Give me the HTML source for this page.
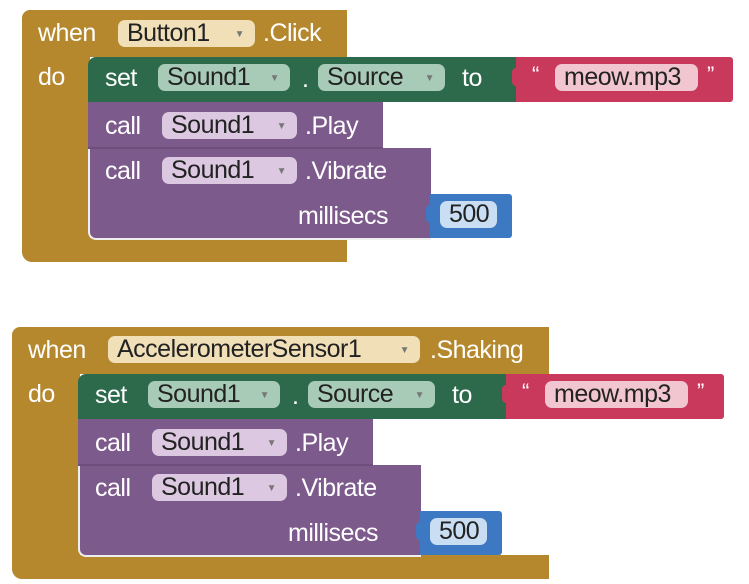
<!DOCTYPE html>
<html><head><meta charset="utf-8"><style>
body{margin:0;width:749px;height:584px;background:#fff;position:relative;overflow:hidden;font-family:"Liberation Sans",sans-serif;}
div{position:absolute;box-sizing:border-box}
.g{background:#b5882d}
.gr{background:#2d6a4c}
.r{background:#c9395c}
.p{background:#7d5a8c}
.b{background:#3d78c2}
.t{color:#fff;font-size:25px;line-height:26px;white-space:nowrap;letter-spacing:-0.5px}
.q{color:#fff;font-size:22px;line-height:22px}
.pill{border-radius:7px;font-size:25px;line-height:27px;height:27px;color:#222;padding-left:9px;white-space:nowrap;letter-spacing:-0.5px}
.pill span{font-size:10px;color:#777;vertical-align:middle;position:absolute;right:11px;top:1px}
.ev{background:#f1dfb8}.sp{background:#a8cbb8}.cp{background:#ddc8e2}.rp{background:#f2c6d1}.bp{background:#c9def3}
</style></head><body>
<!-- block 1 -->
<div class="g" style="left:22px;top:10px;width:325px;height:47px;border-radius:8px 0 0 0"></div>
<div class="g" style="left:22px;top:50px;width:68px;height:200px;"></div>
<div class="g" style="left:22px;top:238px;width:325px;height:24px;border-radius:0 0 0 10px"></div>
<div class="t" style="left:38px;top:20px">when</div>
<div class="pill ev" style="left:118px;top:20px;width:137px">Button1<span>▼</span></div>
<div class="t" style="left:263px;top:20px">.Click</div>
<div class="t" style="left:38px;top:64px">do</div>
<div class="gr" style="left:88px;top:57px;width:432px;height:45px;border-radius:8px 0 0 0"></div>
<div class="r" style="left:516px;top:57px;width:217px;height:45px;border-radius:0 3px 3px 0"></div>
<div style="left:512px;top:68px;width:8px;height:18px;background:#c9395c;border-radius:4px 0 0 4px"></div>
<div class="t" style="left:105px;top:65px">set</div>
<div class="pill sp" style="left:158px;top:64px;width:132px">Sound1<span>▼</span></div>
<div class="t" style="left:302px;top:66px">.</div>
<div class="pill sp" style="left:318px;top:64px;width:127px">Source<span>▼</span></div>
<div class="t" style="left:462px;top:65px">to</div>
<div class="q" style="left:532px;top:64px">“</div>
<div class="pill rp" style="left:555px;top:64px;width:143px">meow.mp3</div>
<div class="q" style="left:707px;top:64px">”</div>
<div class="p" style="left:88px;top:102px;width:295px;height:46px"></div>
<div class="t" style="left:105px;top:113px">call</div>
<div class="pill cp" style="left:162px;top:112px;width:135px">Sound1<span>▼</span></div>
<div class="t" style="left:305px;top:113px">.Play</div>
<div class="p" style="left:88px;top:148px;width:343px;height:92px;border-radius:0 0 0 8px;border-bottom:2px solid #eee;border-left:2px solid #eee"></div>
<div style="left:88px;top:147px;width:295px;height:2px;background:#6e4e7c"></div>
<div class="t" style="left:105px;top:158px">call</div>
<div class="pill cp" style="left:162px;top:157px;width:135px">Sound1<span>▼</span></div>
<div class="t" style="left:305px;top:158px">.Vibrate</div>
<div class="t" style="left:298px;top:203px">millisecs</div>
<div class="b" style="left:430px;top:194px;width:82px;height:44px;border-radius:0 3px 3px 0"></div>
<div style="left:426px;top:205px;width:8px;height:18px;background:#3d78c2;border-radius:4px 0 0 4px"></div>
<div class="pill bp" style="left:440px;top:201px;width:57px">500</div>
<!-- block 2 -->
<div class="g" style="left:12px;top:327px;width:537px;height:47px;border-radius:8px 0 0 0"></div>
<div class="g" style="left:12px;top:367px;width:68px;height:200px;"></div>
<div class="g" style="left:12px;top:555px;width:537px;height:24px;border-radius:0 0 0 10px"></div>
<div class="t" style="left:28px;top:337px">when</div>
<div class="pill ev" style="left:108px;top:336px;width:312px">AccelerometerSensor1<span>▼</span></div>
<div class="t" style="left:430px;top:337px">.Shaking</div>
<div class="t" style="left:28px;top:381px">do</div>
<div class="gr" style="left:78px;top:374px;width:432px;height:45px;border-radius:8px 0 0 0"></div>
<div class="r" style="left:506px;top:374px;width:218px;height:45px;border-radius:0 3px 3px 0"></div>
<div style="left:502px;top:385px;width:8px;height:18px;background:#c9395c;border-radius:4px 0 0 4px"></div>
<div class="t" style="left:95px;top:382px">set</div>
<div class="pill sp" style="left:148px;top:381px;width:132px">Sound1<span>▼</span></div>
<div class="t" style="left:292px;top:383px">.</div>
<div class="pill sp" style="left:308px;top:381px;width:127px">Source<span>▼</span></div>
<div class="t" style="left:452px;top:382px">to</div>
<div class="q" style="left:522px;top:381px">“</div>
<div class="pill rp" style="left:545px;top:381px;width:143px">meow.mp3</div>
<div class="q" style="left:697px;top:381px">”</div>
<div class="p" style="left:78px;top:419px;width:295px;height:46px"></div>
<div class="t" style="left:95px;top:430px">call</div>
<div class="pill cp" style="left:152px;top:429px;width:135px">Sound1<span>▼</span></div>
<div class="t" style="left:295px;top:430px">.Play</div>
<div class="p" style="left:78px;top:465px;width:343px;height:92px;border-radius:0 0 0 8px;border-bottom:2px solid #eee;border-left:2px solid #eee"></div>
<div style="left:78px;top:464px;width:295px;height:2px;background:#6e4e7c"></div>
<div class="t" style="left:95px;top:475px">call</div>
<div class="pill cp" style="left:152px;top:474px;width:135px">Sound1<span>▼</span></div>
<div class="t" style="left:295px;top:475px">.Vibrate</div>
<div class="t" style="left:288px;top:520px">millisecs</div>
<div class="b" style="left:420px;top:511px;width:82px;height:44px;border-radius:0 3px 3px 0"></div>
<div style="left:416px;top:522px;width:8px;height:18px;background:#3d78c2;border-radius:4px 0 0 4px"></div>
<div class="pill bp" style="left:430px;top:518px;width:57px">500</div>
</body></html>
